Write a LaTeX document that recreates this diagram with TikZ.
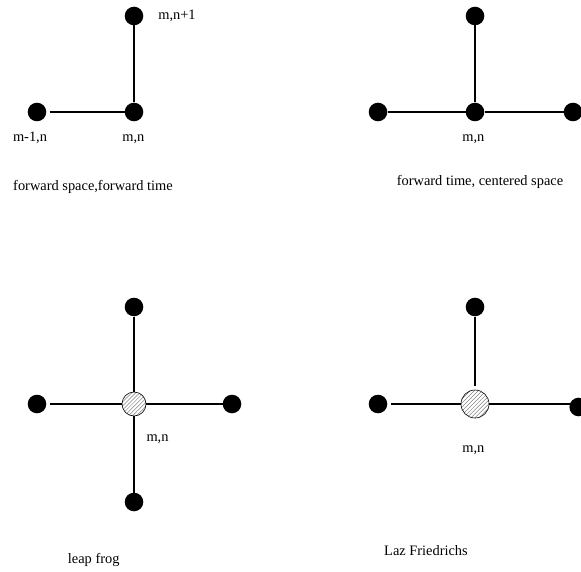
\documentclass[tikz,border=0pt]{standalone}
\usepackage{fontspec}
\setmainfont{Liberation Serif}
\usetikzlibrary{patterns.meta}
\begin{document}
\begin{tikzpicture}[x=1pt,y=-1pt,
  dot/.style={circle,fill=black,minimum size=18.6pt,inner sep=0pt},
  hatched/.style={circle,draw=black,line width=0.6pt,inner sep=0pt,
    pattern={Lines[angle=45,distance=2.8pt,line width=0.5pt]},pattern color=gray},
  conn/.style={line width=1.2pt},
  lbl/.style={anchor=base,font=\fontsize{14.4}{16}\selectfont,inner sep=0pt}]
\useasboundingbox (0,0) rectangle (581,572);
% panel 1: forward space, forward time
\node[dot] (p1t) at (134,16) {};
\node[dot] (p1l) at (37,112) {};
\node[dot] (p1c) at (134,112) {};
\draw[conn,shorten <=3pt] (p1l) -- (p1c);
\draw[conn] (p1t) -- (p1c);
\node[lbl] (l1a) at (177,20) {m,n+1};
\node[lbl] (l1b) at (30,141.5) {m-1,n};
\node[lbl] (l1c) at (133.3,141.5) {m,n};
\node[lbl] (l1d) at (93,190.7) {forward space,forward time};
% panel 2: forward time, centered space
\node[dot] (p2t) at (475,16) {};
\node[dot] (p2l) at (378,112) {};
\node[dot] (p2c) at (475,112) {};
\node[dot] (p2r) at (573,112) {};
\draw[conn] (p2l) -- (p2c);
\draw[conn] (p2c) -- (p2r);
\draw[conn] (p2t) -- (p2c);
\node[lbl] (l2a) at (473.3,141.5) {m,n};
\node[lbl] (l2b) at (480,185.7) {forward time, centered space};
% panel 3: leap frog
\node[dot] (p3t) at (134,307) {};
\node[dot] (p3l) at (37,404) {};
\node[hatched,minimum size=24pt] (p3c) at (134,404) {};
\node[dot] (p3r) at (232,404) {};
\node[dot] (p3b) at (134,502) {};
\draw[conn,shorten <=3pt] (p3l) -- (p3c);
\draw[conn] (p3c) -- (p3r);
\draw[conn] (p3t) -- (p3c);
\draw[conn] (p3c) -- (p3b);
\node[lbl] (l3a) at (157.5,441.3) {m,n};
\node[lbl] (l3b) at (93.7,563.3) {leap frog};
% panel 4: Laz Friedrichs
\node[dot] (p4t) at (475,307) {};
\node[dot] (p4l) at (378,404) {};
\node[hatched,minimum size=28pt] (p4c) at (475,404) {};
\node[dot] (p4r) at (578.7,407) {};
\draw[conn,shorten <=3pt] (p4l) -- (p4c);
\draw[conn,shorten >=-1pt] (p4c) -- (p4c -| p4r.west);
\draw[conn,shorten >=4pt] (p4t) -- (p4c);
\node[lbl] (l4a) at (473.3,452.7) {m,n};
\node[lbl] (l4b) at (426,555.7) {Laz Friedrichs};
\end{tikzpicture}
\end{document}
